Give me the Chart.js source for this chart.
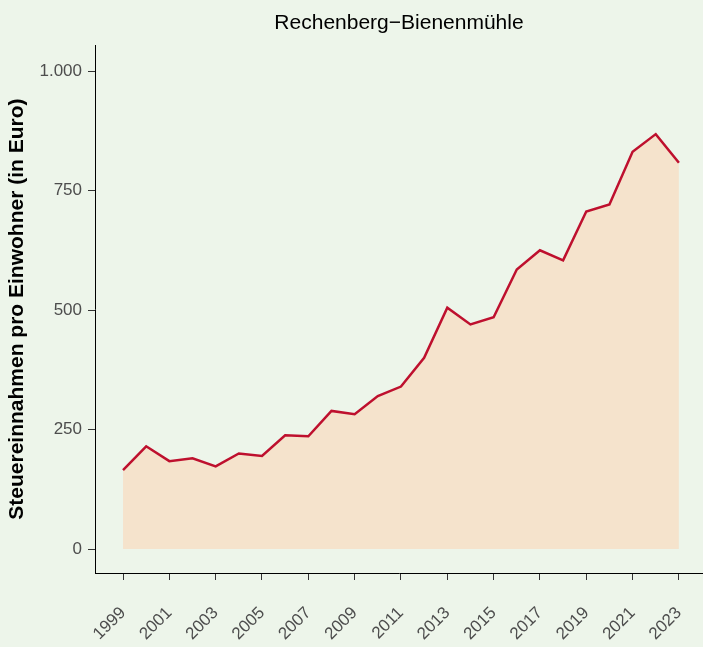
<!DOCTYPE html>
<html>
<head>
<meta charset="utf-8">
<script src="https://cdn.jsdelivr.net/npm/chart.js@4/dist/chart.umd.min.js"></script>
<style>
body{margin:0;background:#EDF5EA;}
canvas{display:block;}
</style>
</head>
<body>
<canvas id="steuerChart" width="703" height="647"></canvas>
<script>
const jahre = [1999,2000,2001,2002,2003,2004,2005,2006,2007,2008,2009,2010,2011,2012,2013,2014,2015,2016,2017,2018,2019,2020,2021,2022,2023];
const steuern = [165,215,184,190,173,200,195,238,236,289,282,320,340,400,505,470,485,585,625,604,706,721,831,868,808];
const yTicks = [0,250,500,750,1000];
const xTicks = [1999,2001,2003,2005,2007,2009,2011,2013,2015,2017,2019,2021,2023];

const schrift = "'Liberation Sans', Arial, sans-serif";

function mkPoints(xs, ys){
	let arr = new Array();
	xs.forEach((x,index)=>{
		arr[index] = {x:x, y:ys[index]};
	});
	return arr;
}
function tausender(v){
	return String(v).replace(/\B(?=(\d{3})+(?!\d))/g, '.');
}

const steuerDis = new Chart(document.querySelector('#steuerChart').getContext('2d'), {
	type: 'line',
	data: {
		datasets: [{
			data: mkPoints(jahre, steuern),
			borderColor: '#BE102E',
			borderWidth: 2.5,
			backgroundColor: '#F5E3CC',
			fill: 'origin',
			pointRadius: 0,
			tension: 0
		}]
	},
	options: {
		responsive: false,
		animation: false,
		layout: { padding: 0 },
		plugins: {
			legend: { display: false },
			tooltip: { enabled: false },
			title: {
				display: true,
				fullSize: false,
				text: 'Rechenberg\u2212Bienenmühle',
				color: '#000',
				font: { family: schrift, size: 21, weight: 'normal' },
				padding: { top: 11, bottom: 9 }
			}
		},
		scales: {
			x: {
				type: 'linear',
				min: 1997.79,
				max: 2024.04,
				afterBuildTicks: (scale)=>{ scale.ticks = xTicks.map(v=>({value:v})); },
				afterFit: (scale)=>{ scale.height = 74; scale.paddingLeft = 0; scale.paddingRight = 0; },
				grid: { drawOnChartArea: false, tickLength: 7, tickColor: '#333333', lineWidth: 1 },
				border: { color: '#000', width: 1 },
				ticks: {
					color: '#4D4D4D',
					font: { family: schrift, size: 17 },
					minRotation: 45,
					maxRotation: 45,
					padding: 23,
					callback: (v)=>String(v)
				}
			},
			y: {
				min: -50,
				max: 1054,
				afterBuildTicks: (scale)=>{ scale.ticks = yTicks.map(v=>({value:v})); },
				afterFit: (scale)=>{ scale.width = 95; scale.paddingTop = 0; scale.paddingBottom = 0; },
				grid: { drawOnChartArea: false, tickLength: 7, tickColor: '#333333', lineWidth: 1 },
				border: { color: '#000', width: 1 },
				ticks: {
					color: '#4D4D4D',
					font: { family: schrift, size: 17 },
					padding: 6,
					callback: (v)=>tausender(v)
				},
				title: {
					display: true,
					text: 'Steuereinnahmen pro Einwohner (in Euro)',
					color: '#000',
					font: { family: schrift, size: 21, weight: 'bold' },
					padding: { top: 5, bottom: 0 }
				}
			}
		}
	}
});
</script>
</body>
</html>
